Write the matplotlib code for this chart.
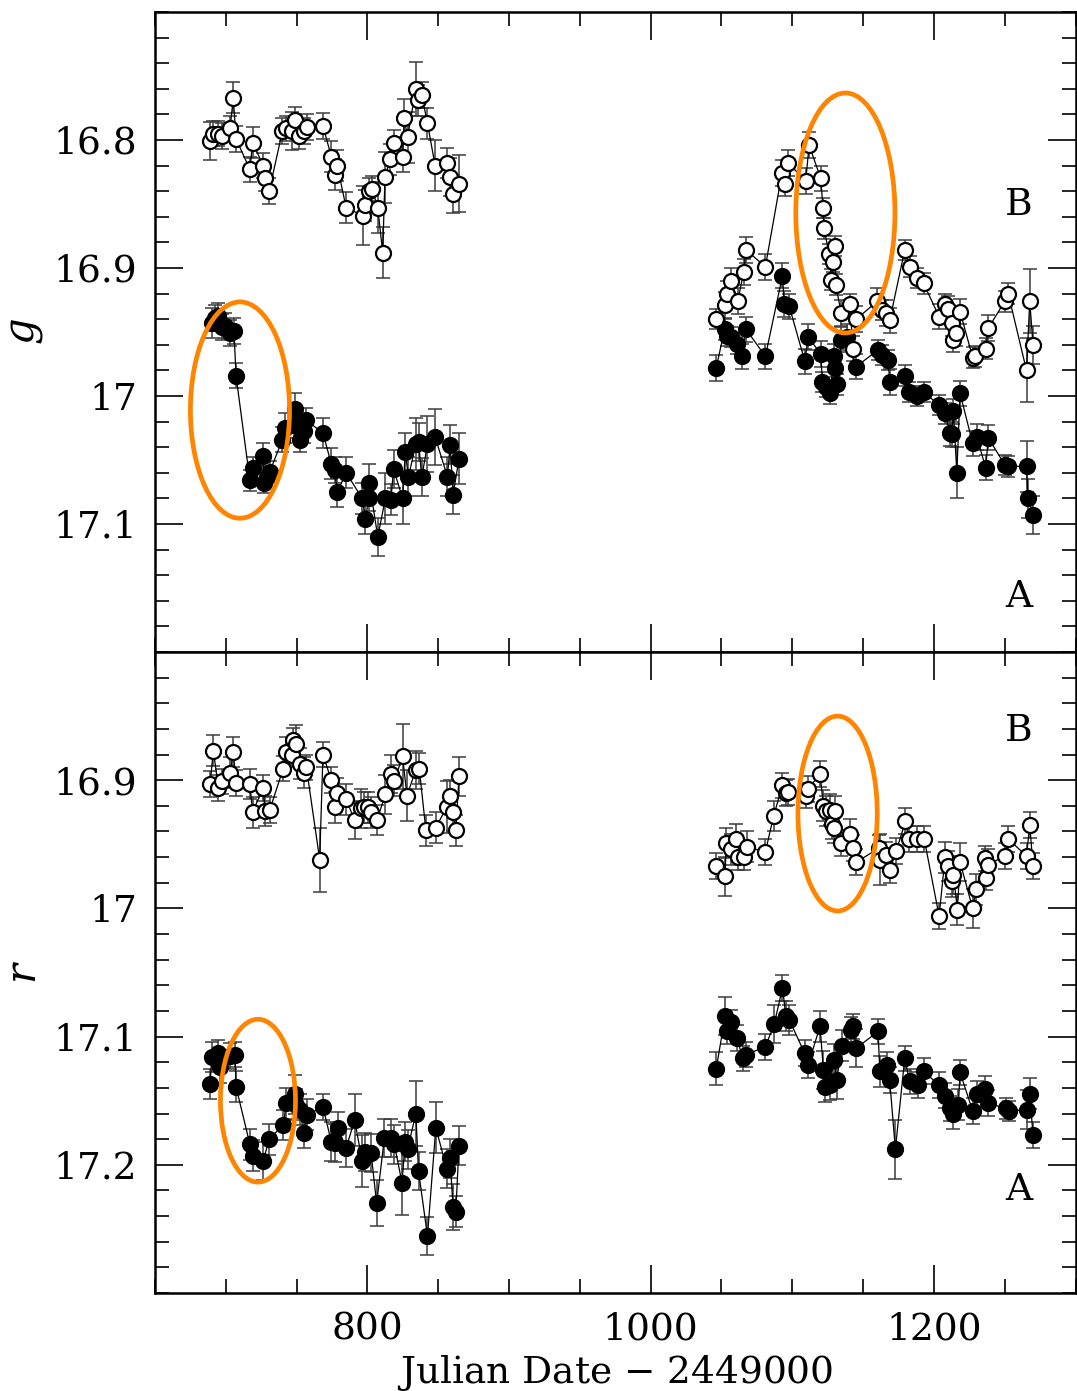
import matplotlib
matplotlib.use("Agg")
import matplotlib.pyplot as plt
from matplotlib.patches import Ellipse
from matplotlib.ticker import MultipleLocator, FixedLocator

# ---------- light curves, g band ----------
# image B, first season
jd_gB1 = [688.9, 690.8, 694.8, 697.6, 703.0, 705.3, 707.2, 717.0, 719.0, 726.4, 727.6, 730.6, 740.0, 742.8,
          746.4, 748.7, 751.8, 755.0, 757.0, 768.6, 774.5, 776.8, 778.7, 785.0, 796.7, 798.6, 801.4, 803.3,
          807.3, 810.8, 812.4, 816.0, 818.5, 824.8, 826.0, 828.3, 834.2, 836.0, 838.4, 842.4, 847.8, 856.5,
          858.3, 860.5, 864.7]
g_B1 = [16.801, 16.795, 16.795, 16.797, 16.791, 16.767, 16.799, 16.823, 16.802, 16.820, 16.830, 16.840, 16.793,
        16.791, 16.793, 16.784, 16.797, 16.793, 16.790, 16.789, 16.813, 16.827, 16.820, 16.853, 16.859, 16.851,
        16.840, 16.838, 16.853, 16.888, 16.829, 16.815, 16.802, 16.813, 16.783, 16.798, 16.760, 16.769, 16.765,
        16.787, 16.820, 16.818, 16.829, 16.842, 16.834]
eg_B1 = [0.015, 0.01, 0.01, 0.01, 0.01, 0.012, 0.01, 0.01, 0.012, 0.01, 0.01, 0.01, 0.01, 0.01, 0.015, 0.01,
         0.01, 0.01, 0.01, 0.01, 0.012, 0.012, 0.012, 0.012, 0.023, 0.012, 0.01, 0.01, 0.02, 0.02, 0.02, 0.012,
         0.01, 0.012, 0.015, 0.02, 0.021, 0.012, 0.01, 0.012, 0.02, 0.012, 0.015, 0.015, 0.022]

# image A, first season
jd_gA1 = [690.1, 692.4, 694.8, 697.0, 699.5, 703.0, 705.8, 707.2, 717.0, 719.4, 726.4, 727.1, 729.2, 731.1,
          740.0, 741.7, 748.0, 748.7, 752.2, 755.0, 756.9, 768.6, 774.5, 776.8, 778.7, 785.0, 796.3, 798.6,
          800.9, 801.4, 807.3, 812.7, 816.6, 818.5, 824.8, 826.7, 829.0, 834.2, 836.1, 838.4, 842.4, 847.8,
          856.5, 858.4, 860.5, 864.7]
g_A1 = [16.943, 16.939, 16.9375, 16.946, 16.945, 16.951, 16.949, 16.984, 17.066, 17.056, 17.047, 17.068, 17.063,
        17.059, 17.034, 17.025, 17.023, 17.010, 17.034, 17.027, 17.019, 17.029, 17.053, 17.058, 17.075, 17.060,
        17.080, 17.096, 17.080, 17.068, 17.110, 17.080, 17.081, 17.057, 17.080, 17.044, 17.063, 17.0375, 17.036,
        17.0635, 17.0375, 17.032, 17.063, 17.038, 17.077, 17.049]
eg_A1 = [0.012, 0.01, 0.01, 0.01, 0.01, 0.01, 0.01, 0.01, 0.008, 0.008, 0.01, 0.008, 0.008, 0.008, 0.01, 0.012,
         0.01, 0.012, 0.01, 0.01, 0.01, 0.012, 0.012, 0.01, 0.012, 0.012, 0.012, 0.012, 0.01, 0.015, 0.015,
         0.02, 0.012, 0.015, 0.02, 0.015, 0.015, 0.02, 0.015, 0.015, 0.022, 0.022, 0.015, 0.015, 0.015, 0.02]

# image B, second season
jd_gB2 = [1046.3, 1052.2, 1054.0, 1056.8, 1061.5, 1065.7, 1067.4, 1081.0, 1092.7, 1095.0, 1097.2, 1109.5,
          1111.9, 1120.1, 1121.7, 1122.4, 1126.0, 1127.6, 1129.0, 1130.2, 1130.6, 1134.6, 1140.7, 1142.8,
          1145.2, 1160.0, 1163.4, 1166.5, 1168.8, 1179.4, 1182.9, 1188.0, 1192.7, 1203.7, 1207.9, 1209.8,
          1212.6, 1213.8, 1215.6, 1218.5, 1227.4, 1229.0, 1236.6, 1238.4, 1250.1, 1252.5, 1265.4, 1267.7, 1270.0]
g_B2 = [16.940, 16.929, 16.920, 16.910, 16.926, 16.903, 16.886, 16.899, 16.826, 16.834, 16.818, 16.832, 16.804,
        16.830, 16.853, 16.869, 16.889, 16.909, 16.895, 16.883, 16.913, 16.935, 16.928, 16.963, 16.940, 16.926,
        16.933, 16.935, 16.941, 16.886, 16.899, 16.908, 16.912, 16.938, 16.928, 16.932, 16.943, 16.956, 16.951,
        16.934, 16.970, 16.969, 16.963, 16.947, 16.926, 16.920, 16.980, 16.926, 16.960]
eg_B2 = [0.008, 0.01, 0.01, 0.01, 0.01, 0.01, 0.01, 0.01, 0.01, 0.01, 0.01, 0.01, 0.01, 0.01, 0.008, 0.008,
         0.008, 0.008, 0.008, 0.008, 0.008, 0.01, 0.008, 0.01, 0.01, 0.01, 0.008, 0.01, 0.01, 0.008, 0.008,
         0.008, 0.008, 0.01, 0.008, 0.01, 0.01, 0.01, 0.01, 0.01, 0.008, 0.008, 0.008, 0.01, 0.008, 0.008,
         0.025, 0.025, 0.015]

# image A, second season
jd_gA2 = [1046.3, 1052.2, 1054.0, 1056.4, 1061.0, 1064.5, 1067.4, 1081.0, 1093.1, 1094.3, 1097.9, 1108.9,
          1111.2, 1120.1, 1121.3, 1123.6, 1126.7, 1129.5, 1130.0, 1131.8, 1134.6, 1138.8, 1145.2, 1160.6,
          1163.4, 1167.7, 1168.8, 1179.9, 1182.3, 1188.0, 1192.7, 1203.7, 1207.9, 1211.4, 1212.6, 1213.8,
          1216.2, 1218.5, 1227.4, 1230.2, 1236.6, 1238.4, 1250.1, 1252.5, 1265.4, 1266.5, 1270.0]
g_A2 = [16.978, 16.948, 16.953, 16.954, 16.959, 16.969, 16.948, 16.969, 16.906, 16.928, 16.930, 16.973, 16.954,
        16.967, 16.989, 16.993, 16.998, 16.969, 16.978, 16.991, 16.956, 16.954, 16.977, 16.964, 16.968, 16.972,
        16.989, 16.984, 16.997, 17.000, 16.997, 17.007, 17.0135, 17.029, 17.030, 17.012, 17.060, 16.998, 17.037,
        17.032, 17.056, 17.0325, 17.054, 17.055, 17.055, 17.080, 17.093]
eg_A2 = [0.01, 0.008, 0.008, 0.008, 0.008, 0.01, 0.01, 0.01, 0.01, 0.01, 0.01, 0.01, 0.01, 0.01, 0.008, 0.008,
         0.008, 0.01, 0.01, 0.008, 0.01, 0.01, 0.01, 0.008, 0.008, 0.008, 0.01, 0.008, 0.008, 0.008, 0.008,
         0.008, 0.008, 0.01, 0.01, 0.01, 0.02, 0.01, 0.01, 0.01, 0.01, 0.01, 0.008, 0.008, 0.02, 0.015, 0.015]

# ---------- light curves, r band ----------
jd_rB1 = [688.9, 691.2, 694.8, 697.1, 703.0, 705.3, 707.2, 717.0, 718.9, 726.4, 727.6, 731.1, 740.5, 742.8,
          746.4, 747.5, 749.9, 752.2, 755.0, 756.9, 766.3, 768.6, 774.5, 776.8, 778.7, 785.0, 790.9, 795.6,
          797.9, 800.2, 802.6, 806.8, 812.7, 816.6, 819.0, 824.8, 827.9, 834.2, 836.6, 841.3, 848.3, 856.0,
          858.3, 860.5, 862.4, 864.7]
r_B1 = [16.903, 16.877, 16.906, 16.901, 16.894, 16.878, 16.902, 16.903, 16.925, 16.906, 16.924, 16.923, 16.891,
        16.878, 16.880, 16.869, 16.872, 16.887, 16.894, 16.890, 16.962, 16.880, 16.900, 16.921, 16.910, 16.915,
        16.931, 16.922, 16.921, 16.921, 16.925, 16.931, 16.911, 16.895, 16.9005, 16.8815, 16.912, 16.892, 16.891,
        16.939, 16.937, 16.921, 16.912, 16.925, 16.939, 16.897]
er_B1 = [0.01, 0.012, 0.01, 0.01, 0.012, 0.012, 0.01, 0.012, 0.012, 0.01, 0.012, 0.01, 0.01, 0.012, 0.01, 0.01,
         0.015, 0.012, 0.012, 0.01, 0.025, 0.01, 0.01, 0.012, 0.012, 0.012, 0.015, 0.015, 0.012, 0.012, 0.012,
         0.012, 0.015, 0.015, 0.012, 0.025, 0.02, 0.015, 0.012, 0.012, 0.012, 0.02, 0.012, 0.015, 0.012, 0.015]

jd_rA1 = [688.9, 690.1, 694.8, 696.0, 703.0, 706.5, 707.2, 717.0, 719.4, 726.4, 730.6, 740.5, 742.8, 748.7,
          749.9, 752.2, 755.0, 757.3, 768.6, 774.5, 776.8, 779.1, 785.0, 790.9, 796.3, 798.6, 802.6, 806.5,
          812.0, 816.6, 819.0, 824.4, 826.7, 828.3, 834.2, 836.1, 842.4, 848.3, 856.0, 858.3, 860.5, 862.4, 864.7]
r_A1 = [17.137, 17.116, 17.113, 17.124, 17.115, 17.114, 17.139, 17.184, 17.193, 17.197, 17.180, 17.169, 17.152,
        17.145, 17.153, 17.157, 17.175, 17.161, 17.155, 17.182, 17.183, 17.171, 17.187, 17.165, 17.197, 17.190,
        17.191, 17.230, 17.179, 17.179, 17.184, 17.214, 17.182, 17.188, 17.160, 17.205, 17.2555, 17.171, 17.203,
        17.195, 17.233, 17.2365, 17.185]
er_A1 = [0.012, 0.012, 0.01, 0.012, 0.01, 0.01, 0.012, 0.012, 0.012, 0.015, 0.012, 0.012, 0.012, 0.015, 0.012,
         0.012, 0.012, 0.012, 0.01, 0.015, 0.015, 0.012, 0.015, 0.02, 0.02, 0.015, 0.015, 0.018, 0.015, 0.015,
         0.015, 0.025, 0.015, 0.015, 0.025, 0.015, 0.015, 0.02, 0.015, 0.015, 0.018, 0.012, 0.015]

jd_rB2 = [1046.3, 1052.6, 1053.3, 1056.4, 1060.3, 1061.5, 1065.7, 1068.1, 1081.0, 1086.8, 1093.1, 1095.5,
          1097.2, 1109.5, 1111.2, 1119.6, 1122.0, 1123.6, 1126.7, 1128.3, 1129.5, 1130.2, 1134.6, 1140.7,
          1142.8, 1145.2, 1161.1, 1162.2, 1166.5, 1168.8, 1173.5, 1179.9, 1182.3, 1188.0, 1193.2, 1203.7,
          1207.9, 1210.3, 1213.1, 1213.8, 1216.6, 1218.5, 1227.4, 1229.7, 1236.0, 1236.8, 1238.4, 1250.1,
          1252.5, 1265.4, 1267.7, 1270.0]
r_B2 = [16.967, 16.975, 16.949, 16.954, 16.946, 16.960, 16.960, 16.952, 16.956, 16.928, 16.904, 16.910, 16.909,
        16.912, 16.907, 16.895, 16.920, 16.924, 16.923, 16.934, 16.937, 16.924, 16.949, 16.942, 16.953, 16.964,
        16.953, 16.962, 16.958, 16.970, 16.955, 16.932, 16.946, 16.946, 16.946, 17.006, 16.960, 16.967, 16.979,
        16.974, 17.001, 16.964, 17.000, 16.985, 16.961, 16.976, 16.966, 16.959, 16.946, 16.959, 16.935, 16.967]
er_B2 = [0.01, 0.015, 0.012, 0.012, 0.012, 0.01, 0.01, 0.012, 0.01, 0.012, 0.01, 0.01, 0.01, 0.01, 0.01, 0.01,
         0.012, 0.012, 0.012, 0.012, 0.012, 0.012, 0.01, 0.012, 0.01, 0.01, 0.01, 0.02, 0.01, 0.01, 0.01, 0.01,
         0.01, 0.01, 0.01, 0.01, 0.012, 0.012, 0.012, 0.015, 0.012, 0.015, 0.015, 0.012, 0.01, 0.01, 0.012,
         0.01, 0.01, 0.01, 0.01, 0.01]

jd_rA2 = [1046.3, 1052.6, 1054.0, 1056.4, 1061.0, 1065.0, 1067.4, 1081.0, 1087.3, 1093.1, 1095.5, 1097.9,
          1108.8, 1111.2, 1119.6, 1122.0, 1123.2, 1126.7, 1129.5, 1131.4, 1134.9, 1141.2, 1142.8, 1145.2,
          1160.6, 1161.8, 1167.0, 1168.8, 1172.8, 1179.4, 1182.9, 1188.5, 1192.7, 1203.7, 1207.9, 1211.4,
          1213.8, 1217.3, 1218.5, 1227.4, 1230.2, 1236.0, 1238.4, 1250.8, 1253.2, 1265.4, 1267.7, 1270.0]
r_A2 = [17.125, 17.084, 17.096, 17.089, 17.101, 17.117, 17.114, 17.108, 17.090, 17.062, 17.084, 17.087, 17.113,
        17.122, 17.092, 17.126, 17.139, 17.1375, 17.118, 17.134, 17.107, 17.0945, 17.092, 17.109, 17.096, 17.127,
        17.122, 17.134, 17.188, 17.117, 17.135, 17.138, 17.127, 17.138, 17.146, 17.156, 17.160, 17.153, 17.128,
        17.158, 17.145, 17.141, 17.152, 17.156, 17.158, 17.157, 17.1445, 17.177]
er_A2 = [0.013, 0.015, 0.01, 0.01, 0.01, 0.01, 0.01, 0.01, 0.015, 0.01, 0.012, 0.012, 0.01, 0.01, 0.012, 0.015,
         0.012, 0.012, 0.012, 0.015, 0.012, 0.01, 0.01, 0.015, 0.01, 0.012, 0.01, 0.01, 0.023, 0.01, 0.01, 0.01,
         0.01, 0.01, 0.01, 0.01, 0.012, 0.012, 0.01, 0.01, 0.01, 0.01, 0.01, 0.008, 0.008, 0.015, 0.012, 0.01]

# labelled magnitudes on each panel
yticks_g = [16.8, 16.9, 17.0, 17.1]
yticks_r = [16.9, 17.0, 17.1, 17.2]

# highlighted events (centre x, centre y, width, height) in data units
events_g = [(710.0, 17.011, 70.0, 0.169), (1137.5, 16.857, 70.0, 0.1875)]
events_r = [(722.7, 17.150, 53.0, 0.127), (1132.0, 16.926, 56.0, 0.152)]

FONT = "DejaVu Serif"
plt.rcParams["font.family"] = FONT
plt.rcParams["mathtext.fontset"] = "dejavuserif"

fig = plt.figure(figsize=(10.77, 13.91), dpi=100)
L, R = 155 / 1077, 1075.5 / 1077
ax_g = fig.add_axes([L, 1 - 652 / 1391, R - L, 640 / 1391])
ax_r = fig.add_axes([L, 1 - 1293 / 1391, R - L, 641 / 1391], sharex=ax_g)


def draw_curve(ax, jd, mag, err, filled):
    ax.errorbar(jd, mag, yerr=err, fmt="none", ecolor="#3c3c3c", elinewidth=1.1,
                capsize=5.2, capthick=1.1, zorder=2)
    ax.plot(jd, mag, "-", color="k", lw=0.9, zorder=3)
    ax.plot(jd, mag, "o", ms=10.8, mew=1.6, mec="k",
            mfc="k" if filled else "white", zorder=4 if filled else 5)


curves_g = [(jd_gA1, g_A1, eg_A1, True), (jd_gA2, g_A2, eg_A2, True),
            (jd_gB1, g_B1, eg_B1, False), (jd_gB2, g_B2, eg_B2, False)]
curves_r = [(jd_rA1, r_A1, er_A1, True), (jd_rA2, r_A2, er_A2, True),
            (jd_rB1, r_B1, er_B1, False), (jd_rB2, r_B2, er_B2, False)]

for ax, curves, events, yt in [(ax_g, curves_g, events_g, yticks_g), (ax_r, curves_r, events_r, yticks_r)]:
    for jd, mag, err, filled in curves:
        draw_curve(ax, jd, mag, err, filled)
    for cx, cy, w, h in events:
        ax.add_patch(Ellipse((cx, cy), w, h, fill=False, ec="#ff8400", lw=3.4, zorder=6))
    ax.xaxis.set_major_locator(MultipleLocator(200))
    ax.xaxis.set_minor_locator(MultipleLocator(50))
    ax.yaxis.set_major_locator(FixedLocator(yt))
    ax.yaxis.set_minor_locator(MultipleLocator(0.02))
    ax.tick_params(which="both", direction="in", top=True, right=True, labelsize=27, pad=13)
    ax.tick_params(which="major", length=20, width=1.2)
    ax.tick_params(which="minor", length=10, width=1.2)
    for s in ax.spines.values():
        s.set_linewidth(1.8)
    ax.yaxis.set_major_formatter(plt.FuncFormatter(lambda v, p: f"{v:g}"))

ax_g.set_xlim(650, 1300)
ax_g.set_ylim(17.2, 16.7)
ax_r.set_ylim(17.3, 16.8)
ax_g.tick_params(labelbottom=False)

ax_g.set_ylabel("$g$", fontsize=30, labelpad=6)
ax_r.set_ylabel("$r$", fontsize=30, labelpad=6)
ax_r.set_xlabel("Julian Date $-$ 2449000", fontsize=27, labelpad=4)

ax_g.text(0.938, 0.698, "B", transform=ax_g.transAxes, fontsize=27, ha="center", va="center")
ax_g.text(0.938, 0.086, "A", transform=ax_g.transAxes, fontsize=27, ha="center", va="center")
ax_r.text(0.938, 0.877, "B", transform=ax_r.transAxes, fontsize=27, ha="center", va="center")
ax_r.text(0.938, 0.160, "A", transform=ax_r.transAxes, fontsize=27, ha="center", va="center")

fig.savefig("out.png", dpi=100)
